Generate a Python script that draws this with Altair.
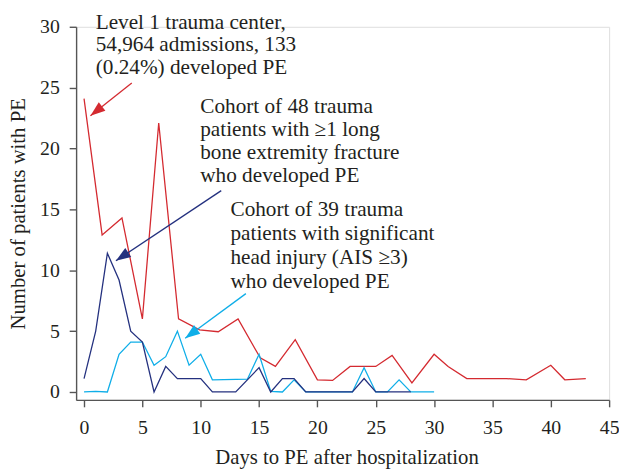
import math
import altair as alt
import pandas as pd

# ---- data ----
red_days = [0, 1.55, 3.25, 5.0, 6.4, 8.1, 9.9, 11.5, 13.2, 15.1, 16.4, 18.1, 20.0, 21.3,
            22.8, 25.0, 26.4, 28.1, 30.0, 31.2, 32.8, 36.2, 37.9, 40.0, 41.2, 43.0]
red_vals = [24.1, 12.9, 14.3, 6.0, 22.1, 6.0, 5.1, 4.95, 6.0, 2.8, 2.1, 4.3, 1.0, 0.95,
            2.1, 2.1, 3.0, 0.75, 3.1, 2.1, 1.1, 1.1, 1.0, 2.2, 1.0, 1.1]

navy_days = [0, 1, 2, 3, 4, 5, 6, 7, 8, 10, 11, 13, 15, 16, 17, 18, 19, 23, 24, 25, 28]
navy_vals = [1.1, 5.0, 11.4, 9.2, 5.0, 4.1, 0, 2.1, 1.1, 1.1, 0, 0, 2.0, 0, 1.1, 1.1, 0, 0, 1.1, 0, 0]

cyan_days = [0, 1, 2, 3, 4, 5, 6, 7, 8, 9, 10, 11, 14, 15, 16, 17, 18, 19, 23, 24, 25, 26, 27, 28, 30]
cyan_vals = [0, 0.05, 0, 3.1, 4.1, 4.1, 2.2, 2.9, 5.0, 2.2, 3.1, 1.0, 1.05, 3.1, 0.05, 0, 1.0, 0, 0,
             2.0, 0, 0, 1.0, 0, 0]

x_ticks = [0, 5, 10, 15, 20, 25, 30, 35, 40, 45]
y_ticks = [0, 5, 10, 15, 20, 25, 30]

ann_texts = [
    "Level 1 trauma center,\n54,964 admissions, 133\n(0.24%) developed PE",
    "Cohort of 48 trauma\npatients with ≥1 long\nbone extremity fracture\nwho developed PE",
    "Cohort of 39 trauma\npatients with significant\nhead injury (AIS ≥3)\nwho developed PE",
]
ann_x = [1.0, 9.96, 12.55]
ann_y = [29.84, 22.88, 14.45]
ann_line_height = [23, 23.3, 24.4]

# arrows (data units): start -> tip
arrow_x0 = [4.09, 11.76, 13.87]
arrow_y0 = [25.38, 16.54, 8.08]
arrow_x1 = [0.55, 2.73, 8.67]
arrow_y1 = [22.70, 10.78, 4.42]

RED = "#d42a30"
NAVY = "#24317f"
CYAN = "#0faee8"
colors = [RED, NAVY, CYAN]
TEXT = "#231f20"
FONT = "Liberation Serif"

W, H = 540, 378
XDOM = [-0.68, 45]
YDOM = [-0.65, 30]
sx = W / (XDOM[1] - XDOM[0])
sy = H / (YDOM[1] - YDOM[0])

xs = alt.Scale(domain=XDOM, nice=False, zero=False)
ys = alt.Scale(domain=YDOM, nice=False, zero=False)

axis_common = dict(
    grid=False, tickSize=7, tickColor="#555555", domainColor="#555555",
    domainWidth=1.4, tickWidth=1.4, labelFont=FONT, labelFontSize=20,
    labelColor=TEXT, titleFont=FONT, titleFontSize=21, titleColor=TEXT,
    titleFontWeight="normal",
)

x_enc = alt.X("day:Q", scale=xs, axis=alt.Axis(values=x_ticks, title="Days to PE after hospitalization",
                                               labelPadding=11, titlePadding=9, labelFlush=False,
                                               titleX=274, **axis_common))
y_enc = alt.Y("val:Q", scale=ys, axis=alt.Axis(values=y_ticks, title="Number of patients with PE",
                                               labelPadding=10, titlePadding=11, **axis_common))

def line(days, vals, color):
    df = pd.DataFrame({"day": days, "val": vals})
    return alt.Chart(df).mark_line(color=color, strokeWidth=1.3).encode(x=x_enc, y=y_enc)

red = line(red_days, red_vals, RED)
cyan = line(cyan_days, cyan_vals, CYAN)
navy = line(navy_days, navy_vals, NAVY)

# arrows
rows = []
for i in range(3):
    dx = (arrow_x1[i] - arrow_x0[i]) * sx
    dy = -(arrow_y1[i] - arrow_y0[i]) * sy
    ang = math.degrees(math.atan2(dx, -dy)) % 360
    rows.append({"x0": arrow_x0[i], "y0": arrow_y0[i], "x1": arrow_x1[i], "y1": arrow_y1[i],
                 "ang": ang, "c": colors[i], "k": str(i)})
adf = pd.DataFrame(rows)
cscale = alt.Scale(domain=colors, range=colors)

shafts = alt.Chart(adf).mark_rule(strokeWidth=1.3).encode(
    x=alt.X("x0:Q", scale=xs), y=alt.Y("y0:Q", scale=ys),
    x2="x1:Q", y2="y1:Q",
    color=alt.Color("c:N", scale=cscale, legend=None),
)
heads = alt.Chart(adf).mark_point(
    shape="M0,0L-0.36,1L0.36,1Z", filled=True, size=900, opacity=1
).encode(
    x=alt.X("x1:Q", scale=xs), y=alt.Y("y1:Q", scale=ys),
    angle=alt.Angle("ang:Q", scale=None),
    color=alt.Color("c:N", scale=cscale, legend=None),
)

texts = []
for i in range(3):
    tdf = pd.DataFrame({"day": [ann_x[i]], "val": [ann_y[i]], "t": [ann_texts[i]]})
    texts.append(alt.Chart(tdf).mark_text(
        align="left", baseline="alphabetic", font=FONT, fontSize=21.5, color=TEXT,
        lineBreak="\n", lineHeight=ann_line_height[i],
    ).encode(x=alt.X("day:Q", scale=xs), y=alt.Y("val:Q", scale=ys), text="t:N"))

chart = alt.layer(red, cyan, navy, shafts, heads, *texts).properties(
    width=W, height=H,
    autosize=alt.AutoSizeParams(type="none"),
    padding={"left": 69, "top": 16, "right": 10, "bottom": 68},
).configure_view(stroke=None).configure(background="white")

chart.save("out.html", embed_options={"renderer": "svg", "actions": False})
